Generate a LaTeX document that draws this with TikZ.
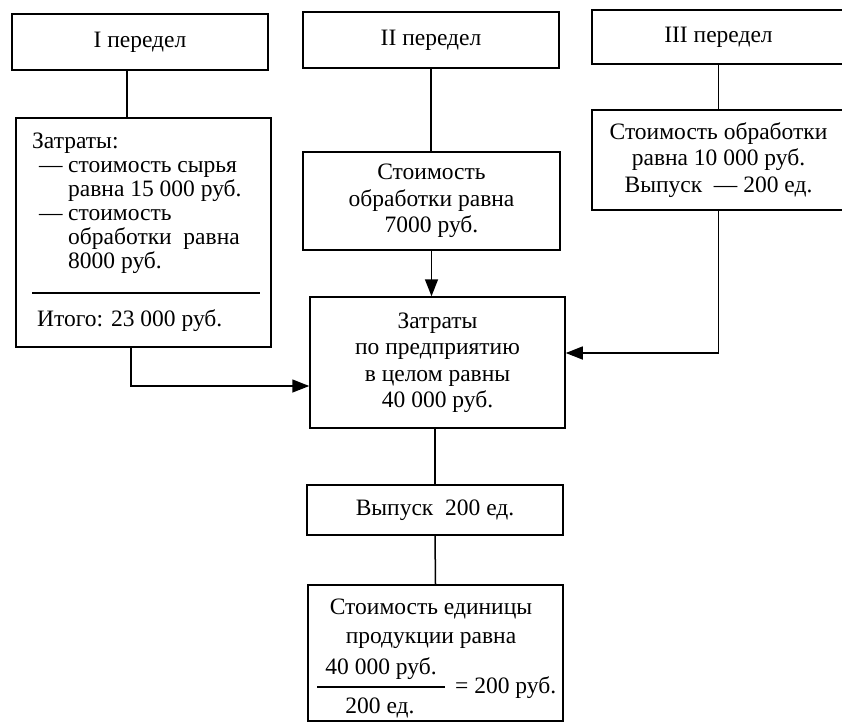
\documentclass[tikz,border=0pt]{standalone}
\usepackage{fontspec}
\setmainfont{Liberation Serif}
\usetikzlibrary{arrows.meta}

\begin{document}
\begin{tikzpicture}[x=1pt,y=-1pt,
  box/.style={draw, line width=1.5pt, inner sep=0pt, align=center},
  conn/.style={line width=1.5pt},
  arr/.style={conn, -{Triangle[length=17pt,width=13pt]}},
  txt/.style={inner sep=0pt},
  lst/.style={txt, anchor=base west},
  font=\fontsize{23.5}{26.5}\selectfont]
\useasboundingbox (0,0) rectangle (842,724);

% stage headers
\node[box, minimum width=256pt, minimum height=56pt] (t1) at (140,42) {I передел};
\node[box, minimum width=256pt, minimum height=56pt] (t2) at (431,40) {II передел};
\node[box, minimum width=253pt, minimum height=54pt] (t3) at (718.5,37) {III передел};

% stage I costs
\node[box, minimum width=255pt, minimum height=229pt] (c1) at (143.5,232.5) {};
\node[lst] (l1) at (32,148) {Затраты:};
\node[lst] (l2) at (39,172) {\makebox[29pt][l]{—}стоимость сырья};
\node[lst] (l3) at (68,196) {равна 15 000 руб.};
\node[lst] (l4) at (39,220) {\makebox[29pt][l]{—}стоимость};
\node[lst] (l5) at (68,244) {обработки\ \ равна};
\node[lst] (l6) at (68,268) {8000 руб.};
\draw[conn] (32,293) -- (260,293);
\node[lst] (sum) at (37,326) {Итого: 23 000 руб.};

% stage II and III costs
\node[box, minimum width=257pt, minimum height=98pt] (c2) at (431.5,201)
  {Стоимость\\обработки равна\\7000 руб.};
\node[box, minimum width=253pt, minimum height=100pt] (c3) at (718.5,160)
  {Стоимость обработки\\равна 10 000 руб.\\Выпуск\ \ — 200 ед.};

% enterprise total
\node[box, minimum width=255pt, minimum height=131pt] (total) at (437.5,362.5)
  {Затраты\\по предприятию\\в целом равны\\40 000 руб.};

% output and unit cost
\node[box, minimum width=256pt, minimum height=50pt] (out) at (435,510) {Выпуск\ \ 200 ед.};
\node[box, minimum width=255pt, minimum height=136pt] (unit) at (435.5,653) {};
\node[txt, anchor=base] (u1) at (431,614) {Стоимость единицы};
\node[txt, anchor=base] (u2) at (431,643) {продукции равна};
\node[txt, anchor=base] (num) at (381,674) {40 000 руб.};
\draw[conn] (317,687) -- (445,687);
\node[txt, anchor=base] (den) at (380,713) {200 ед.};
\node[txt, anchor=base west] (res) at (455,693) {= 200 руб.};

% connectors
\coordinate (k1) at (127,0);
\coordinate (k2) at (131,0);
\draw[conn] (t1.south -| k1) -- (c1.north -| k1);
\draw[conn] (t2.south) -- (t2.south |- c2.north);
\draw[conn] (t3.south) -- (t3.south |- c3.north);
\draw[arr] (c2.south) -- (c2.south |- total.north);
\draw[arr] (c1.south -| k2) |- ([yshift=-23.5pt]total.west);
\draw[arr] (c3.south) |- ([yshift=9.5pt]total.east);
\draw[conn] (total.south -| out.north) -- (out.north);
\draw[conn] (out.south) -- (unit.north);
\end{tikzpicture}
\end{document}
